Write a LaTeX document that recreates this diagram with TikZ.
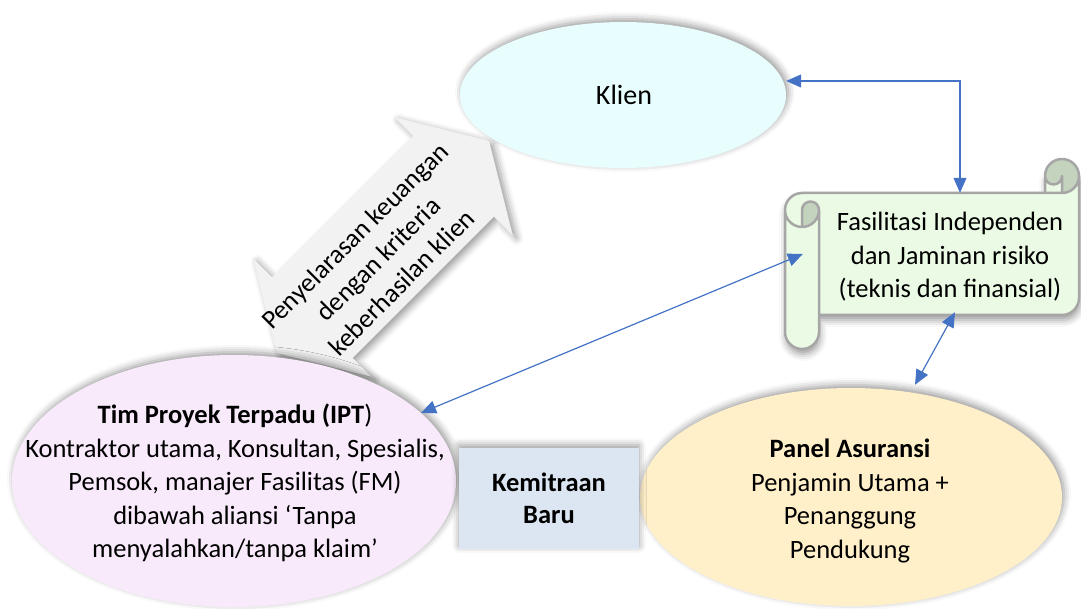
\documentclass[tikz,border=0pt]{standalone}
\usepackage{fontspec}
\setmainfont{Carlito}
\usetikzlibrary{shapes.geometric, arrows.meta, shadows.blur}

\definecolor{klienfill}{HTML}{E8FDFD}
\definecolor{iptfill}{HTML}{F8EAFB}
\definecolor{panelfill}{HTML}{FFF0CA}
\definecolor{kemfill}{HTML}{DCE6F2}
\definecolor{scrollfill}{HTML}{EBFAE4}
\definecolor{scrolldark}{HTML}{C4D3BE}
\definecolor{scrollline}{HTML}{A6A6A6}
\definecolor{bigarrowfill}{HTML}{F2F2F2}
\definecolor{linkblue}{HTML}{4472C4}

\begin{document}
\begin{tikzpicture}[x=1pt, y=-1pt,
  every node/.style={font=\fontsize{26.5}{33.5}\selectfont, text=black, align=center, inner sep=0pt},
  bubble/.style={ellipse, draw=none,
    blur shadow={shadow xshift=2pt, shadow yshift=3pt, shadow blur radius=7pt, shadow opacity=40}},
  linkarrow/.style={draw=linkblue, line width=1.2pt,
    {Triangle[length=15pt,width=13pt]}-{Triangle[length=15pt,width=13pt]}},
]
\useasboundingbox (0,0) rectangle (1081,609);

% wide double-headed arrow between the project team and the client
\fill[bigarrowfill,
  blur shadow={shadow xshift=4pt, shadow yshift=-3pt, shadow blur radius=7pt, shadow opacity=40},
  shift={(383,247)}, rotate=45]
  (-150,0) -- (-100,83.5) -- (-100,57) -- (100,57) -- (100,83.5) -- (150,0)
  -- (100,-83.5) -- (100,-57) -- (-100,-57) -- (-100,-83.5) -- cycle;
\node[rotate=45, font=\fontsize{26.5}{33}\selectfont] (aligntext) at (378,259)
  {Penyelarasan keuangan\\dengan kriteria\\keberhasilan klien};

% ellipses and the partnership box
\node[bubble, fill=klienfill, minimum width=326pt, minimum height=146pt] (klien) at (623,95) {};
\node[font=\fontsize{28}{34}\selectfont] (klientext) at (624,95) {Klien};

\node[bubble, fill=iptfill, minimum width=444pt, minimum height=252pt] (ipt) at (234,481) {};
\node (ipttext) at (235,483)
  {\textbf{Tim Proyek Terpadu (IPT})\\Kontraktor utama, Konsultan, Spesialis,\\Pemsok, manajer Fasilitas (FM)\\dibawah aliansi ‘Tanpa\\menyalahkan/tanpa klaim’};

\node[bubble, fill=panelfill, minimum width=422pt, minimum height=218pt] (panel) at (851,497) {};
\node (paneltext) at (850,501)
  {\textbf{Panel Asuransi}\\Penjamin Utama +\\Penanggung\\Pendukung};

\node[fill=kemfill, minimum width=180pt, minimum height=101pt,
  blur shadow={shadow xshift=0pt, shadow yshift=3pt, shadow blur radius=7pt, shadow opacity=40},
  font=\fontsize{26.5}{32}\selectfont\bfseries] (kem) at (549,498.5) {Kemitraan\\Baru};

% horizontal scroll: body fill
\fill[scrollfill,
  blur shadow={shadow xshift=1pt, shadow yshift=-5pt, shadow blur radius=7pt, shadow opacity=40}]
  (1079,176) arc[start angle=0, delta angle=90, radius=17]
  -- (1062,176) arc[start angle=0, delta angle=180, radius=8.5]
  -- (1045,193) -- (802,193) arc[start angle=270, delta angle=-90, radius=17]
  -- (785,332) arc[start angle=180, delta angle=-180, radius=17]
  -- (819,315) -- (1062,315) arc[start angle=90, delta angle=-90, radius=17]
  -- cycle;
% scroll: rolled-up ends
\fill[scrolldark]
  (802,227) arc[start angle=90, delta angle=-90, radius=17]
            arc[start angle=0, delta angle=-180, radius=8.5] -- cycle
  (1062,193) arc[start angle=90, delta angle=-270, radius=17]
             arc[start angle=180, delta angle=-180, radius=8.5] -- cycle;
% scroll: outline
\draw[scrollline, line width=2.5pt, line join=round]
  (785,210) arc[start angle=180, delta angle=90, radius=17]
  -- (1045,193) -- (1045,176) arc[start angle=180, delta angle=180, radius=17]
  -- (1079,298) arc[start angle=0, delta angle=90, radius=17]
  -- (819,315) -- (819,332) arc[start angle=0, delta angle=180, radius=17]
  -- cycle
  (1045,193) -- (1062,193) arc[start angle=90, delta angle=-90, radius=17]
  (1062,193) -- (1062,176) arc[start angle=0, delta angle=180, radius=8.5]
  (802,227) -- (802,210) arc[start angle=180, delta angle=180, radius=8.5]
            arc[start angle=0, delta angle=180, radius=17]
  (819,210) -- (819,315);
\node[minimum width=294pt, minimum height=122pt] (fac) at (932,254) {};
\node (factext) at (950,257)
  {Fasilitasi Independen\\dan Jaminan risiko\\(teknis dan finansial)};

% connectors
\draw[linkarrow] ([xshift=3pt]klien.5) -| ([xshift=28pt]fac.north);
\draw[linkarrow] ([xshift=18pt]fac.west) -- (ipt.20);
\draw[linkarrow] ([xshift=23pt,yshift=3pt]fac.south) -- ([xshift=64pt,yshift=3pt]panel.north);
\end{tikzpicture}
\end{document}
